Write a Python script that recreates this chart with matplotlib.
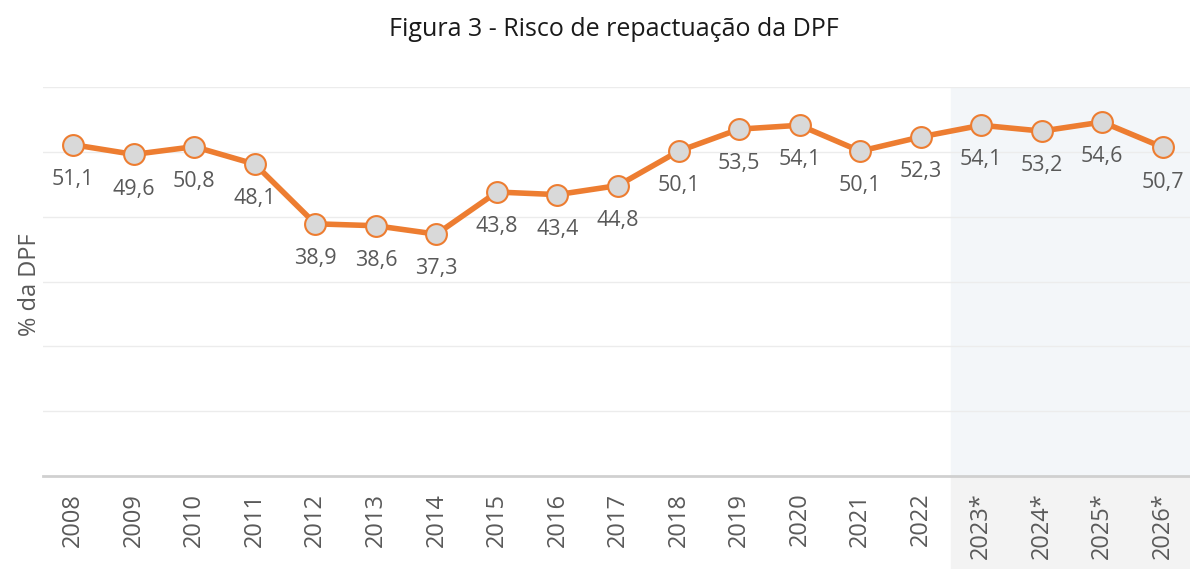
import matplotlib.pyplot as plt
import numpy as np

plt.rcParams['font.family'] = ['Open Sans', 'DejaVu Sans']

years = ['2008', '2009', '2010', '2011', '2012', '2013', '2014', '2015', '2016',
         '2017', '2018', '2019', '2020', '2021', '2022', '2023*', '2024*', '2025*', '2026*']
risco = [51.1, 49.6, 50.8, 48.1, 38.9, 38.6, 37.3, 43.8, 43.4,
         44.8, 50.1, 53.5, 54.1, 50.1, 52.3, 54.1, 53.2, 54.6, 50.7]
n_proj = 4  # anos projetados (sombreados)

orange = '#ed7d31'
grey_txt = '#595959'

fig = plt.figure(figsize=(11.9, 5.69), dpi=100)
ax = fig.add_axes([43 / 1190, 1 - 476 / 569, 1150 / 1190, 389 / 569])

x = np.arange(len(years))
ax.set_xlim(-0.5, len(years) - 0.5)
ax.set_ylim(0, 60)

# area projetada
x0 = len(years) - n_proj - 0.5
ax.axvspan(x0, len(years) - 0.5, color='#f3f6f9', zorder=0)
# faixa cinza sob o eixo
ax.add_patch(plt.Rectangle((x0, -25), len(years) - 0.5 - x0, 25,
                           clip_on=False, color='#f3f3f3', zorder=0))

for g in range(10, 61, 10):
    ax.axhline(g, color='#ececec', lw=1, zorder=1)
ax.axhline(0, color='#d0d0d0', lw=2, zorder=2, clip_on=False)

ax.plot(x, risco, color=orange, lw=4, marker='o', markersize=15,
        markerfacecolor='#d9d9d9', markeredgecolor=orange, markeredgewidth=1.5,
        zorder=3, solid_capstyle='round')

for xi, v in zip(x, risco):
    ax.annotate(f'{v:.1f}'.replace('.', ','), (xi, v), xytext=(0, -25),
                textcoords='offset points', ha='center', va='center',
                fontsize=15.5, color=grey_txt, zorder=4)

ax.set_xticks(x)
ax.set_xticklabels(years, rotation=90, fontsize=17, color=grey_txt)
ax.tick_params(axis='x', length=0, pad=12)
ax.set_yticks([])
for s in ax.spines.values():
    s.set_visible(False)

fig.text(30 / 1190, 1 - 285 / 569, '% da DPF', rotation=90, ha='center',
         va='center', fontsize=17, color=grey_txt)

fig.text(614 / 1190, 1 - 29 / 569, 'Figura 3 - Risco de repactuação da DPF',
         ha='center', va='center', fontsize=18, color='#1a1a1a')

fig.savefig('out.png', dpi=100)
